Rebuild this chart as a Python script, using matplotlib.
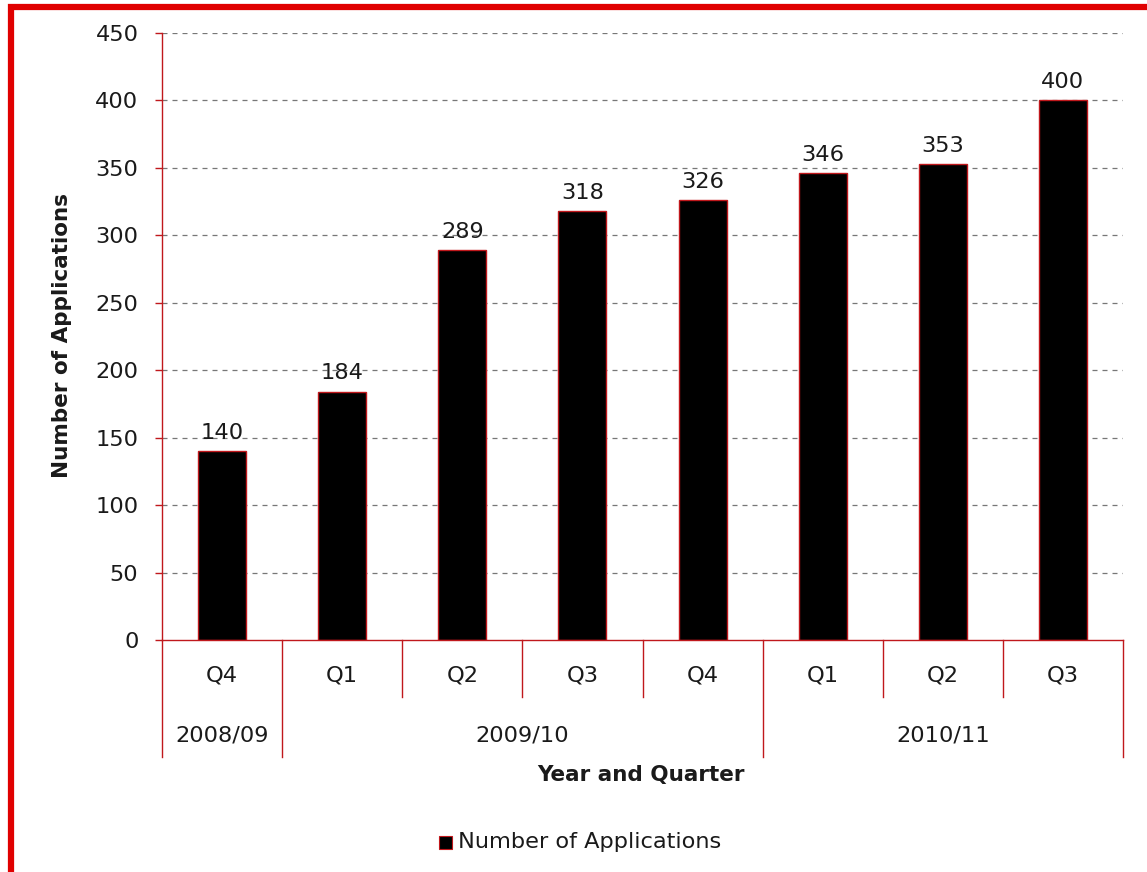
import matplotlib
matplotlib.use("Agg")
import matplotlib.pyplot as plt
from matplotlib.patches import Rectangle
import matplotlib.transforms as mtransforms

quarters = ["Q4", "Q1", "Q2", "Q3", "Q4", "Q1", "Q2", "Q3"]
years = ["2008/09", "2009/10", "2010/11"]
year_sizes = [1, 4, 3]
applications = [140, 184, 289, 318, 326, 346, 353, 400]
y_ticks = [0, 50, 100, 150, 200, 250, 300, 350, 400, 450]

W, H = 1147, 872
plt.rcParams["font.family"] = ["DejaVu Sans"]
FS = 16.2
FSB = 15.5
TXT = "#1a1a1a"
fig = plt.figure(figsize=(W / 100, H / 100), dpi=100)

axis_red = "#c0181c"
left, right, top, bottom = 162, 1123, 33, 640
ax = fig.add_axes([left / W, 1 - bottom / H, (right - left) / W, (bottom - top) / H])

x = list(range(len(applications)))
ax.bar(x, applications, width=0.4, color="black", edgecolor=axis_red, linewidth=1.0, zorder=3)
for xi, v in zip(x, applications):
    ax.annotate(str(v), (xi, v), xytext=(0, 6), textcoords="offset points",
                ha="center", va="bottom", fontsize=FS, color=TXT)

ax.set_xlim(-0.5, len(applications) - 0.5)
ax.set_ylim(0, 450)
ax.set_yticks(y_ticks)
ax.set_yticklabels([str(t) for t in y_ticks], fontsize=FS, color=TXT)
ax.tick_params(axis="y", direction="out", length=5, color=axis_red, width=1, pad=12)
ax.set_xticks([])
for t in y_ticks[1:]:
    ax.axhline(t, color="#777777", linestyle=(0, (4, 4)), linewidth=0.9, zorder=1)

for s in ["top", "right"]:
    ax.spines[s].set_visible(False)
ax.spines["left"].set_color(axis_red)
ax.spines["bottom"].set_color(axis_red)
ax.spines["left"].set_linewidth(1.0)
ax.spines["bottom"].set_linewidth(1.0)
ax.spines["bottom"].set_zorder(4)

# Two-level category axis: quarters above, financial years below
trans = mtransforms.blended_transform_factory(ax.transData, ax.transAxes)
ah = bottom - top
short_y = -(697 - bottom) / ah
long_y = -(757 - bottom) / ah
q_y = -(675 - bottom) / ah
yr_y = -(735 - bottom) / ah

group_edges = [-0.5]
for n in year_sizes:
    group_edges.append(group_edges[-1] + n)
for i in range(len(applications) + 1):
    b = i - 0.5
    y_end = long_y if any(abs(b - g) < 1e-9 for g in group_edges) else short_y
    ax.plot([b, b], [0, y_end], color=axis_red, linewidth=1.0, transform=trans, clip_on=False)

for xi, q in zip(x, quarters):
    ax.text(xi, q_y, q, transform=trans, ha="center", va="center", fontsize=FS, color=TXT)
for yr, a, b in zip(years, group_edges[:-1], group_edges[1:]):
    ax.text((a + b) / 2, yr_y, yr, transform=trans, ha="center", va="center",
            fontsize=FS, color=TXT)

fig.text(641 / W, 1 - 775 / H, "Year and Quarter", ha="center", va="center",
         fontsize=FSB, fontweight="bold", color=TXT)
fig.text(62 / W, 1 - 335 / H, "Number of Applications", ha="center", va="center",
         rotation=90, fontsize=FSB, fontweight="bold", color=TXT)

# Legend
fig.patches.append(Rectangle((439 / W, 1 - 849 / H), 13 / W, 13 / H, transform=fig.transFigure,
                             facecolor="black", edgecolor=axis_red, linewidth=0.8))
fig.text(458 / W, 1 - 842 / H, "Number of Applications", ha="left", va="center",
         fontsize=FS, color=TXT)

# Outer frame
fig.patches.append(Rectangle((11 / W, -0.1), 1.2, 1 - 7 / H + 0.1, transform=fig.transFigure,
                             fill=False, edgecolor="#e00000", linewidth=4.5))

fig.savefig("out.png", dpi=100)
